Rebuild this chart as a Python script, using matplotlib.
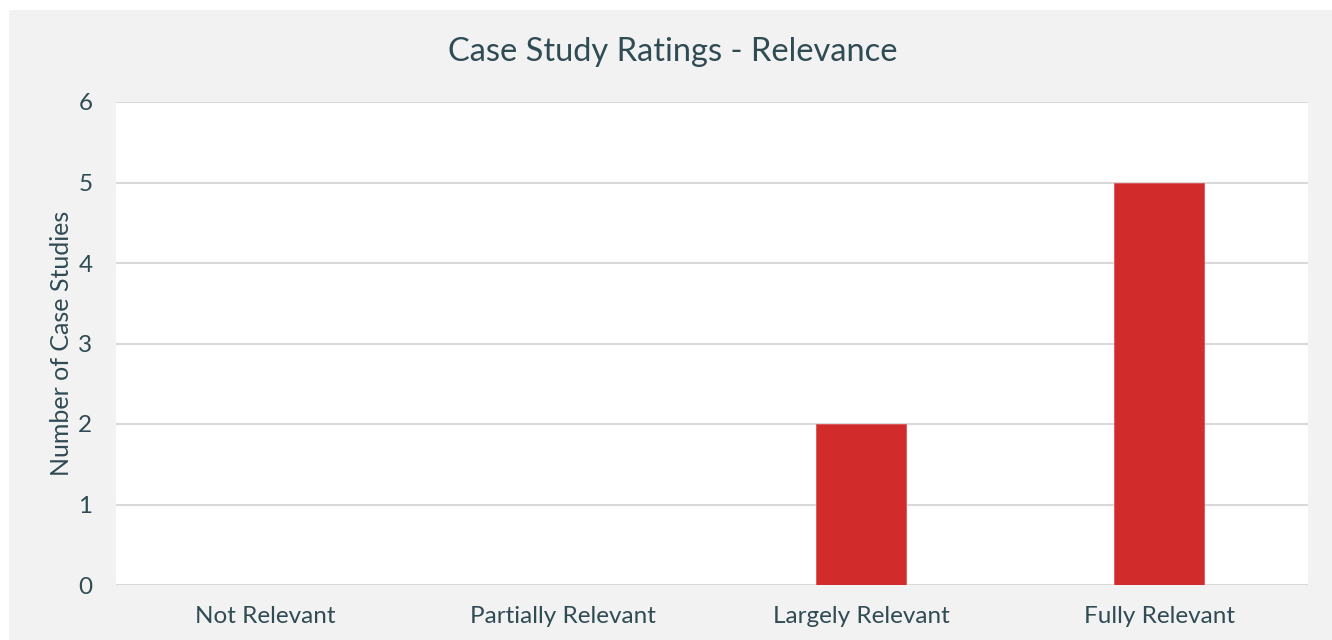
import matplotlib
matplotlib.use("Agg")
import matplotlib.pyplot as plt
from matplotlib.patches import Rectangle

categories = ["Not Relevant", "Partially Relevant", "Largely Relevant", "Fully Relevant"]
counts = [0, 0, 2, 5]
y_ticks = [0, 1, 2, 3, 4, 5, 6]

text_color = "#2f4b53"
bar_color = "#d12b2b"
grid_color = "#d9d9d9"
panel_color = "#f2f2f2"

plt.rcParams["font.family"] = ["Lato", "DejaVu Sans"]

fig = plt.figure(figsize=(13.32, 6.4), dpi=100, facecolor="white")
# grey chart panel behind everything
fig.patches.append(Rectangle((9 / 1332, 0), 1 - 9 / 1332, 1 - 10 / 640,
                             transform=fig.transFigure, facecolor=panel_color,
                             edgecolor="none", zorder=-10))

ax = fig.add_axes([116 / 1332, 55 / 640, 1192 / 1332, 483 / 640])
ax.set_facecolor("white")

x = range(len(categories))
ax.bar(x, counts, width=0.3, color=bar_color, edgecolor="#d95555", linewidth=0.6, zorder=3)

ax.set_xlim(-0.5, len(categories) - 0.5)
ax.set_ylim(0, 6)
ax.set_yticks(y_ticks)
ax.set_xticks(list(x))
ax.set_xticklabels(categories)
ax.tick_params(axis="both", length=0, labelsize=17.5, colors=text_color)
ax.tick_params(axis="y", pad=17)
ax.tick_params(axis="x", pad=15)
ax.grid(axis="y", color=grid_color, linewidth=1.5, zorder=0)
ax.set_axisbelow(True)
for s in ax.spines.values():
    s.set_visible(False)

ax.set_ylabel("Number of Case Studies", fontsize=18, color=text_color, labelpad=4)
fig.text(673 / 1332, 1 - 52 / 640, "Case Study Ratings - Relevance", ha="center", va="center",
         fontsize=23.5, color=text_color)

fig.savefig("out.png", dpi=100)
